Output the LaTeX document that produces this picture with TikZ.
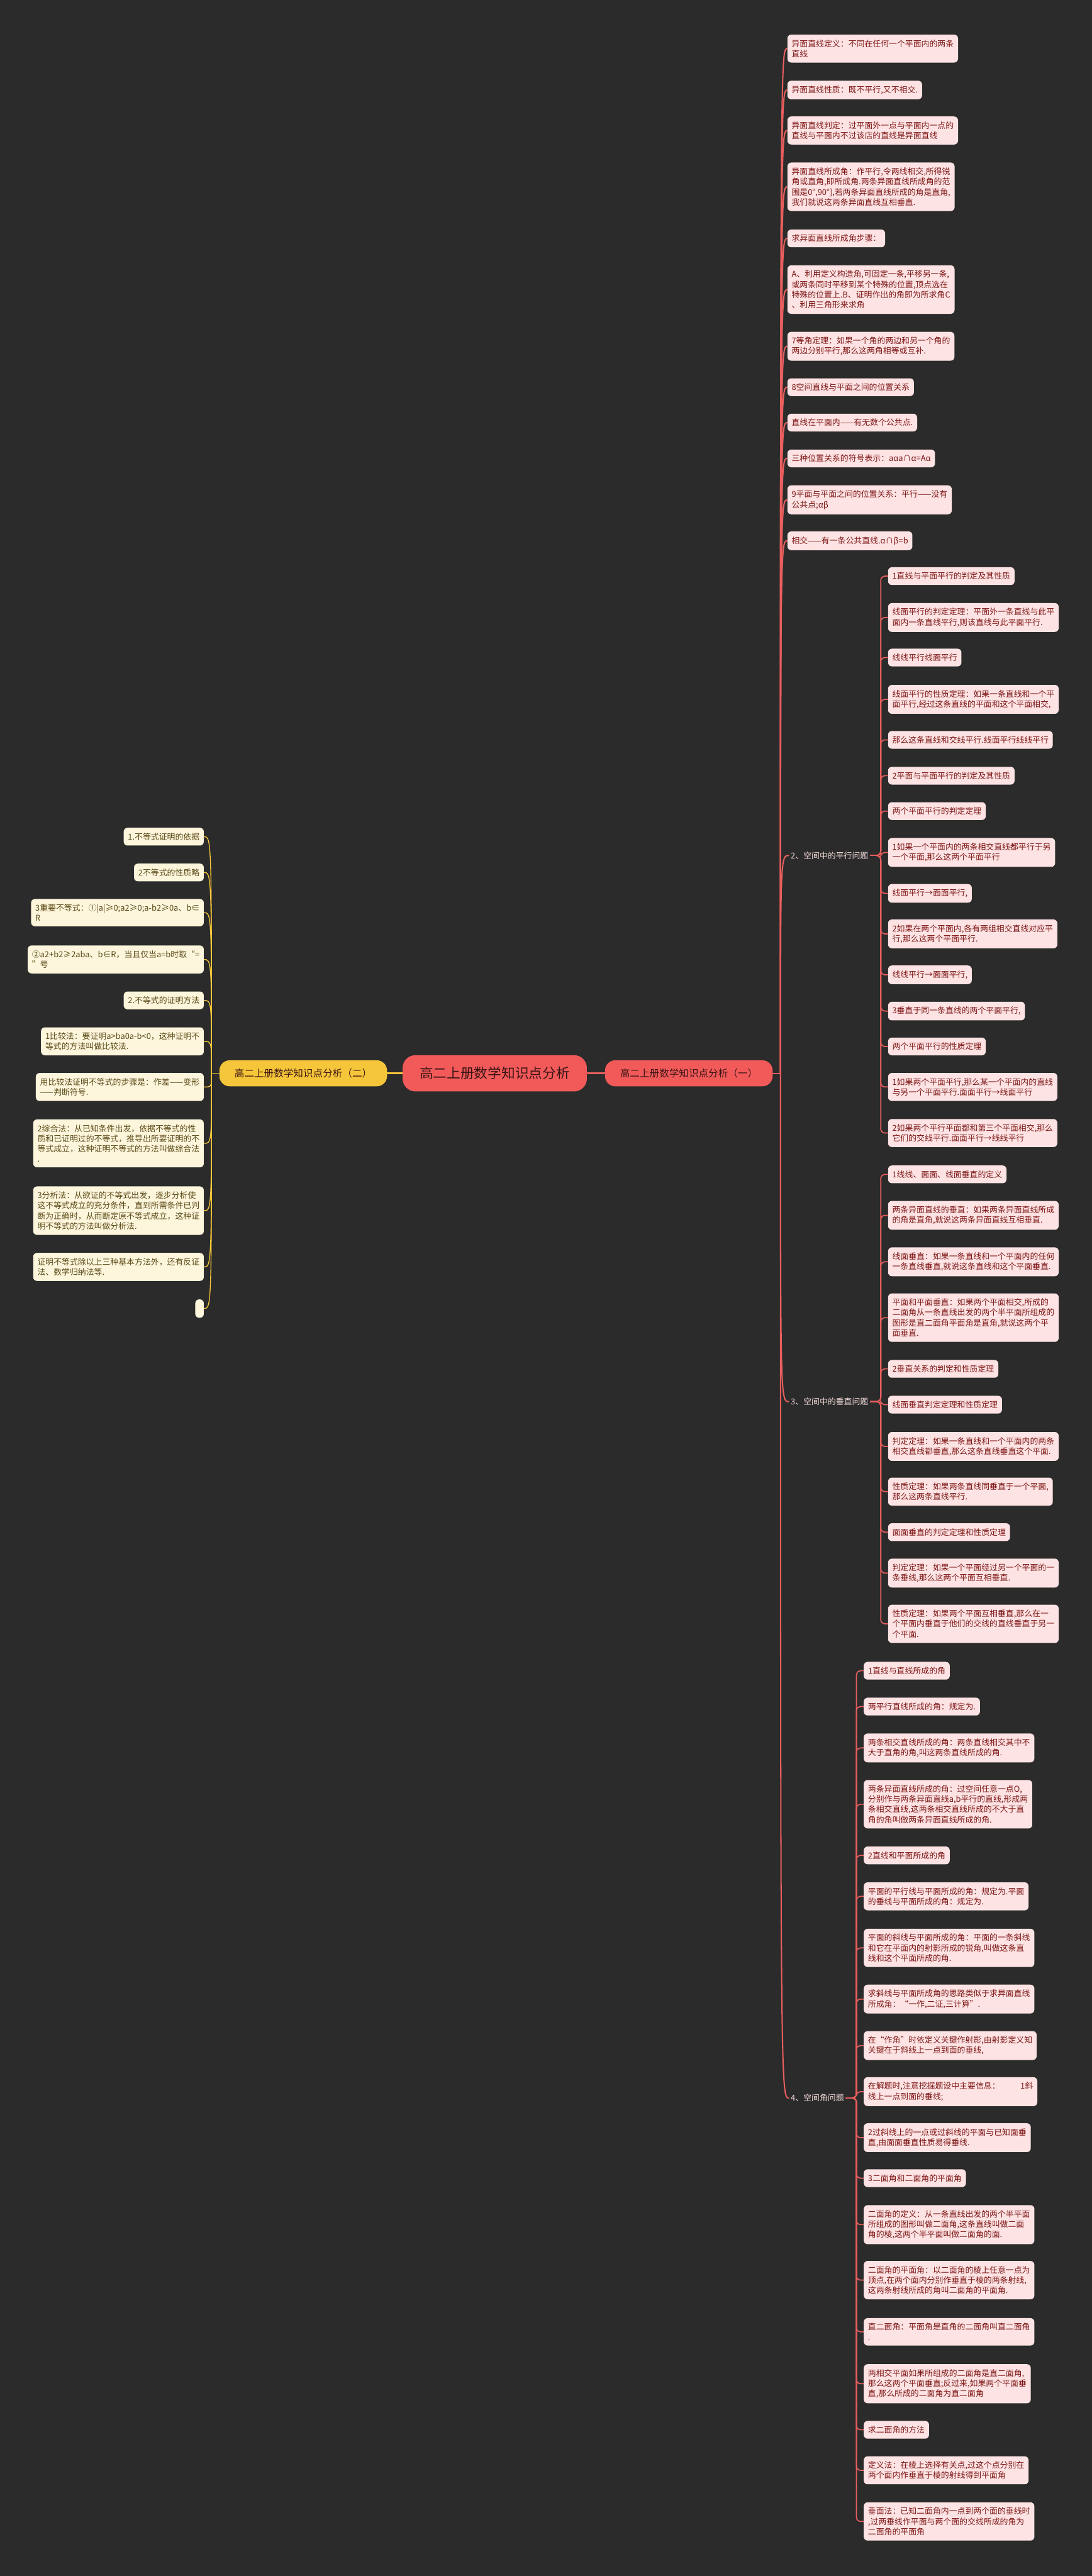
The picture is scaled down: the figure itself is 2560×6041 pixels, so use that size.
\documentclass[tikz,border=0pt]{standalone}
\usepackage{fontspec}
\setmainfont{Noto Sans CJK SC}
\definecolor{bgcol}{HTML}{2B2B2B}
\definecolor{rootred}{HTML}{F25A5A}
\definecolor{linered}{HTML}{E95E5E}
\definecolor{pinkfill}{HTML}{FDE3E3}
\definecolor{pinktext}{HTML}{7E1616}
\definecolor{gold}{HTML}{F6C63A}
\definecolor{creamfill}{HTML}{FDF6DC}
\definecolor{creamtext}{HTML}{5A4816}
\definecolor{darktext}{HTML}{3A1414}
\definecolor{labeltext}{HTML}{F4DADA}
\tikzset{
  topic/.style={fill=rootred, text=darktext, rounded corners=30pt, minimum height=85pt, minimum width=432pt, font=\fontsize{32}{38}\selectfont},
  branch/.style={rounded corners=24pt, minimum height=61pt, minimum width=393pt, font=\fontsize{23}{28}\selectfont},
  leaf/.style={rounded corners=9pt, align=left, inner xsep=10pt, inner ysep=12pt, font=\fontsize{19}{24}\selectfont},
  rleaf/.style={leaf, fill=pinkfill, text=pinktext, anchor=north west},
  lleaf/.style={leaf, fill=creamfill, text=creamtext, anchor=north east},
  sublabel/.style={text=labeltext, font=\fontsize{19}{24}\selectfont, inner xsep=4pt, anchor=west},
  redlink/.style={draw=linered, line width=3pt},
  sublink/.style={draw=linered, line width=2.5pt, rounded corners=10pt},
  goldlink/.style={draw=gold, line width=2pt},
}
\begin{document}
\begin{tikzpicture}[x=1pt, y=-1pt]
\fill[bgcol] (0,0) rectangle (2560,6041);

% centre and the two branches
\node[topic] (root) at (1160,2517) {高二上册数学知识点分析};
\node[branch, fill=rootred, text=darktext] (b1) at (1615,2517) {高二上册数学知识点分析（一）};
\node[branch, fill=gold, text=darktext] (b2) at (711,2517) {高二上册数学知识点分析（二）};
\draw[linered, line width=5pt] (root.east) -- (b1.west);
\draw[gold, line width=5pt] (root.west) -- (b2.east);
\coordinate (j1) at (1830,2517);
\coordinate (j2) at (496,2517);
\draw[redlink] (b1.east) -- (j1);
\draw[goldlink] (b2.west) -- (j2);

% (一): first group
\foreach \y/\t [count=\i] in {
  81/{异面直线定义：不同在任何一个平面内的两条\\直线},
  189/{异面直线性质：既不平行,又不相交.},
  273/{异面直线判定：过平面外一点与平面内一点的\\直线与平面内不过该店的直线是异面直线},
  381/{异面直线所成角：作平行,令两线相交,所得锐\\角或直角,即所成角.两条异面直线所成角的范\\围是0°,90°],若两条异面直线所成的角是直角,\\我们就说这两条异面直线互相垂直.},
  538/{求异面直线所成角步骤：},
  622/{A、利用定义构造角,可固定一条,平移另一条,\\或两条同时平移到某个特殊的位置,顶点选在\\特殊的位置上.B、证明作出的角即为所求角C\\、利用三角形来求角},
  778/{7等角定理：如果一个角的两边和另一个角的\\两边分别平行,那么这两角相等或互补.},
  887/{8空间直线与平面之间的位置关系},
  970/{直线在平面内——有无数个公共点.},
  1054/{三种位置关系的符号表示：aαa∩α=Aα},
  1138/{9平面与平面之间的位置关系：平行——没有\\公共点;αβ},
  1246/{相交——有一条公共直线.α∩β=b}}
{
  \node[rleaf] (n\i) at (1846,\y) {\t};
  \draw[redlink] (j1) .. controls (j1 |- n\i.west) .. (n\i.west);
}

% (一): section labels
\node[sublabel] (s2) at (1850,2006) {2、空间中的平行问题};
\node[sublabel] (s3) at (1850,3287) {3、空间中的垂直问题};
\node[sublabel] (s4) at (1850,4920) {4、空间角问题};
\foreach \s in {s2,s3,s4}
  \draw[redlink] (j1) .. controls (j1 |- \s.west) .. (\s.west);
\coordinate (v2) at (2065,0);
\coordinate (v3) at (2065,0);
\coordinate (v4) at (2008,0);

% 2、空间中的平行问题
\foreach \y/\t [count=\i] in {
  1330/{1直线与平面平行的判定及其性质},
  1414/{线面平行的判定定理：平面外一条直线与此平\\面内一条直线平行,则该直线与此平面平行.},
  1521/{线线平行线面平行},
  1606/{线面平行的性质定理：如果一条直线和一个平\\面平行,经过这条直线的平面和这个平面相交,},
  1714/{那么这条直线和交线平行.线面平行线线平行},
  1798/{2平面与平面平行的判定及其性质},
  1881/{两个平面平行的判定定理},
  1965/{1如果一个平面内的两条相交直线都平行于另\\一个平面,那么这两个平面平行},
  2073/{线面平行→面面平行,},
  2156/{2如果在两个平面内,各有两组相交直线对应平\\行,那么这两个平面平行.},
  2264/{线线平行→面面平行,},
  2349/{3垂直于同一条直线的两个平面平行,},
  2433/{两个平面平行的性质定理},
  2516/{1如果两个平面平行,那么某一个平面内的直线\\与另一个平面平行.面面平行→线面平行},
  2624/{2如果两个平行平面都和第三个平面相交,那么\\它们的交线平行.面面平行→线线平行}}
{
  \node[rleaf] (c\i) at (2082,\y) {\t};
  \draw[sublink] (s2.east) -- (s2.east -| v2) |- (c\i.west);
}

% 3、空间中的垂直问题
\foreach \y/\t [count=\i] in {
  2733/{1线线、面面、线面垂直的定义},
  2816/{两条异面直线的垂直：如果两条异面直线所成\\的角是直角,就说这两条异面直线互相垂直.},
  2925/{线面垂直：如果一条直线和一个平面内的任何\\一条直线垂直,就说这条直线和这个平面垂直.},
  3033/{平面和平面垂直：如果两个平面相交,所成的\\二面角从一条直线出发的两个半平面所组成的\\图形是直二面角平面角是直角,就说这两个平\\面垂直.},
  3189/{2垂直关系的判定和性质定理},
  3273/{线面垂直判定定理和性质定理},
  3358/{判定定理：如果一条直线和一个平面内的两条\\相交直线都垂直,那么这条直线垂直这个平面.},
  3465/{性质定理：如果两条直线同垂直于一个平面,\\那么这两条直线平行.},
  3572/{面面垂直的判定定理和性质定理},
  3655/{判定定理：如果一个平面经过另一个平面的一\\条垂线,那么这两个平面互相垂直.},
  3763/{性质定理：如果两个平面互相垂直,那么在一\\个平面内垂直于他们的交线的直线垂直于另一\\个平面.}}
{
  \node[rleaf] (d\i) at (2082,\y) {\t};
  \draw[sublink] (s3.east) -- (s3.east -| v3) |- (d\i.west);
}

% 4、空间角问题
\foreach \y/\t [count=\i] in {
  3897/{1直线与直线所成的角},
  3981/{两平行直线所成的角：规定为.},
  4065/{两条相交直线所成的角：两条直线相交其中不\\大于直角的角,叫这两条直线所成的角.},
  4174/{两条异面直线所成的角：过空间任意一点O,\\分别作与两条异面直线a,b平行的直线,形成两\\条相交直线,这两条相交直线所成的不大于直\\角的角叫做两条异面直线所成的角.},
  4330/{2直线和平面所成的角},
  4414/{平面的平行线与平面所成的角：规定为.平面\\的垂线与平面所成的角：规定为.},
  4523/{平面的斜线与平面所成的角：平面的一条斜线\\和它在平面内的射影所成的锐角,叫做这条直\\线和这个平面所成的角.},
  4654/{求斜线与平面所成角的思路类似于求异面直线\\所成角：“一作,二证,三计算”.},
  4763/{在“作角”时依定义关键作射影,由射影定义知\\关键在于斜线上一点到面的垂线,},
  4871/{在解题时,注意挖掘题设中主要信息：\hspace{48pt}1斜\\线上一点到面的垂线;},
  4979/{2过斜线上的一点或过斜线的平面与已知面垂\\直,由面面垂直性质易得垂线.},
  5087/{3二面角和二面角的平面角},
  5171/{二面角的定义：从一条直线出发的两个半平面\\所组成的图形叫做二面角,这条直线叫做二面\\角的棱,这两个半平面叫做二面角的面.},
  5302/{二面角的平面角：以二面角的棱上任意一点为\\顶点,在两个面内分别作垂直于棱的两条射线,\\这两条射线所成的角叫二面角的平面角.},
  5436/{直二面角：平面角是直角的二面角叫直二面角\\.},
  5544/{两相交平面如果所组成的二面角是直二面角,\\那么这两个平面垂直;反过来,如果两个平面垂\\直,那么所成的二面角为直二面角},
  5677/{求二面角的方法},
  5760/{定义法：在棱上选择有关点,过这个点分别在\\两个面内作垂直于棱的射线得到平面角},
  5868/{垂面法：已知二面角内一点到两个面的垂线时\\,过两垂线作平面与两个面的交线所成的角为\\二面角的平面角}}
{
  \node[rleaf] (e\i) at (2025,\y) {\t};
  \draw[sublink] (s4.east) -- (s4.east -| v4) |- (e\i.west);
}

% (二)
\foreach \y/\t [count=\i] in {
  1941/{1.不等式证明的依据},
  2025/{2不等式的性质略},
  2108/{3重要不等式：①|a|≥0;a2≥0;a-b2≥0a、b∈\\R},
  2217/{②a2+b2≥2aba、b∈R，当且仅当a=b时取“=\\”号},
  2325/{2.不等式的证明方法},
  2409/{1比较法：要证明a>ba0a-b<0，这种证明不\\等式的方法叫做比较法.},
  2516/{用比较法证明不等式的步骤是：作差——变形\\——判断符号.},
  2625/{2综合法：从已知条件出发，依据不等式的性\\质和已证明过的不等式，推导出所要证明的不\\等式成立，这种证明不等式的方法叫做综合法\\.},
  2782/{3分析法：从欲证的不等式出发，逐步分析使\\这不等式成立的充分条件，直到所需条件已判\\断为正确时，从而断定原不等式成立，这种证\\明不等式的方法叫做分析法.},
  2938/{证明不等式除以上三种基本方法外，还有反证\\法、数学归纳法等.}}
{
  \node[lleaf] (l\i) at (478,\y) {\t};
  \draw[goldlink] (j2) .. controls (j2 |- l\i.east) .. (l\i.east);
}
\node[lleaf, minimum height=43pt, minimum width=20pt, inner xsep=0pt] (l11) at (478,3047) {};
\draw[goldlink] (j2) .. controls (j2 |- l11.east) .. (l11.east);
\end{tikzpicture}
\end{document}
